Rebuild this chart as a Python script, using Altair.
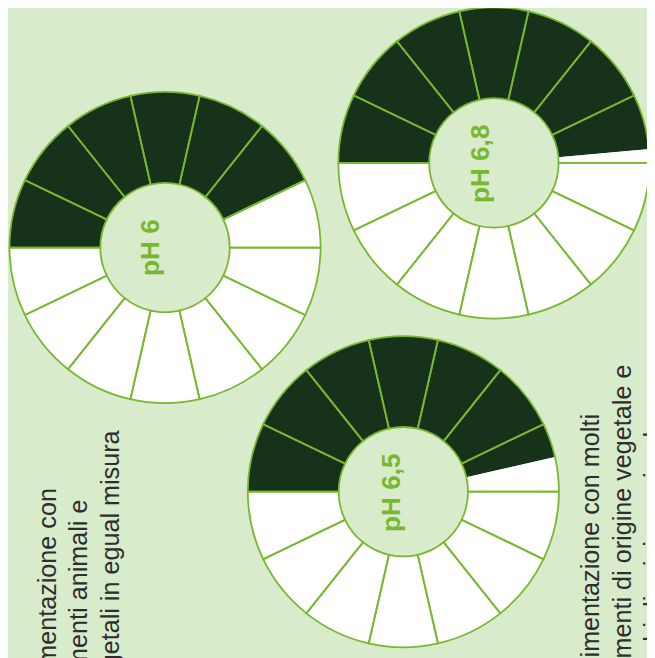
import math
import altair as alt
import pandas as pd

# ---- data ----
ph_values = [6.0, 6.5, 6.8]
ph_labels = ["pH 6", "pH 6,5", "pH 6,8"]
n_segments = 14

left_lines = ["Alimentazione con", "alimenti animali e", "vegetali in egual misura"]
right_lines = ["Alimentazione con molti", "alimenti di origine vegetale e", "pochi di origine animale"]

# ---- layout (chart coords) ----
W, H = 647, 650
centers = [(159, 238.5), (400.3, 485.7), (492, 152.8)]
label_pos = [(153, 238.5), (396.5, 486.7), (487, 153.7)]
R_OUT, R_IN = 157.5, 65.5
left_pos = [(48.7, 482), (80.3, 493.7), (112, 423.7)]
right_pos = [(598.7, 407), (630.3, 357), (662, 411)]

BG = "#d8ebcb"
DARK = "#17321b"
GREEN = "#77b82f"
TEXT = "#2e2e2e"

theta_scale = alt.Scale(domain=[0, n_segments], range=[1.5 * math.pi, 3.5 * math.pi])


def segments_for(ph):
    rows = []
    for k in range(n_segments):
        a, b = k, k + 1
        if ph >= b:
            rows.append({"start": a, "end": b, "state": "acid"})
        elif ph <= a:
            rows.append({"start": a, "end": b, "state": "rest"})
        else:
            rows.append({"start": a, "end": ph, "state": "acid"})
            rows.append({"start": ph, "end": b, "state": "rest"})
    return pd.DataFrame(rows)


grid = pd.DataFrame({"start": list(range(n_segments)), "end": list(range(1, n_segments + 1))})

layers = []
for ph, lab, (cx, cy), (lx, ly) in zip(ph_values, ph_labels, centers, label_pos):
    fills = alt.Chart(segments_for(ph)).mark_arc(
        radius=R_OUT, radius2=R_IN, strokeWidth=0
    ).encode(
        x=alt.value(cx), y=alt.value(cy),
        theta=alt.Theta("start:Q", scale=theta_scale, stack=None),
        theta2="end:Q",
        color=alt.Color("state:N", scale=alt.Scale(domain=["acid", "rest"], range=[DARK, "#ffffff"]), legend=None),
    )
    outline = alt.Chart(grid).mark_arc(
        radius=R_OUT, radius2=R_IN, fillOpacity=0, fill="#ffffff", stroke=GREEN, strokeWidth=1.8
    ).encode(
        x=alt.value(cx), y=alt.value(cy),
        theta=alt.Theta("start:Q", scale=theta_scale, stack=None),
        theta2="end:Q",
    )
    label = alt.Chart(pd.DataFrame({"t": [lab]})).mark_text(
        angle=270, align="center", baseline="alphabetic", font="Liberation Sans",
        fontSize=26.5, fontWeight="bold", color=GREEN
    ).encode(text="t:N", x=alt.value(lx), y=alt.value(ly))
    layers += [fills, outline, label]

for lines, pos in ((left_lines, left_pos), (right_lines, right_pos)):
    for txt, (tx, ty) in zip(lines, pos):
        layers.append(
            alt.Chart(pd.DataFrame({"t": [txt]})).mark_text(
                angle=270, align="right", baseline="alphabetic", font="Liberation Sans",
                fontSize=25.5, color=TEXT
            ).encode(text="t:N", x=alt.value(tx), y=alt.value(ty))
        )

chart = alt.layer(*layers).properties(
    width=W, height=H, background=BG, padding=0,
    autosize=alt.AutoSizeParams(type="none"),
).configure_view(stroke=None)

chart.save("out.html", embed_options={"renderer": "svg", "actions": False})
